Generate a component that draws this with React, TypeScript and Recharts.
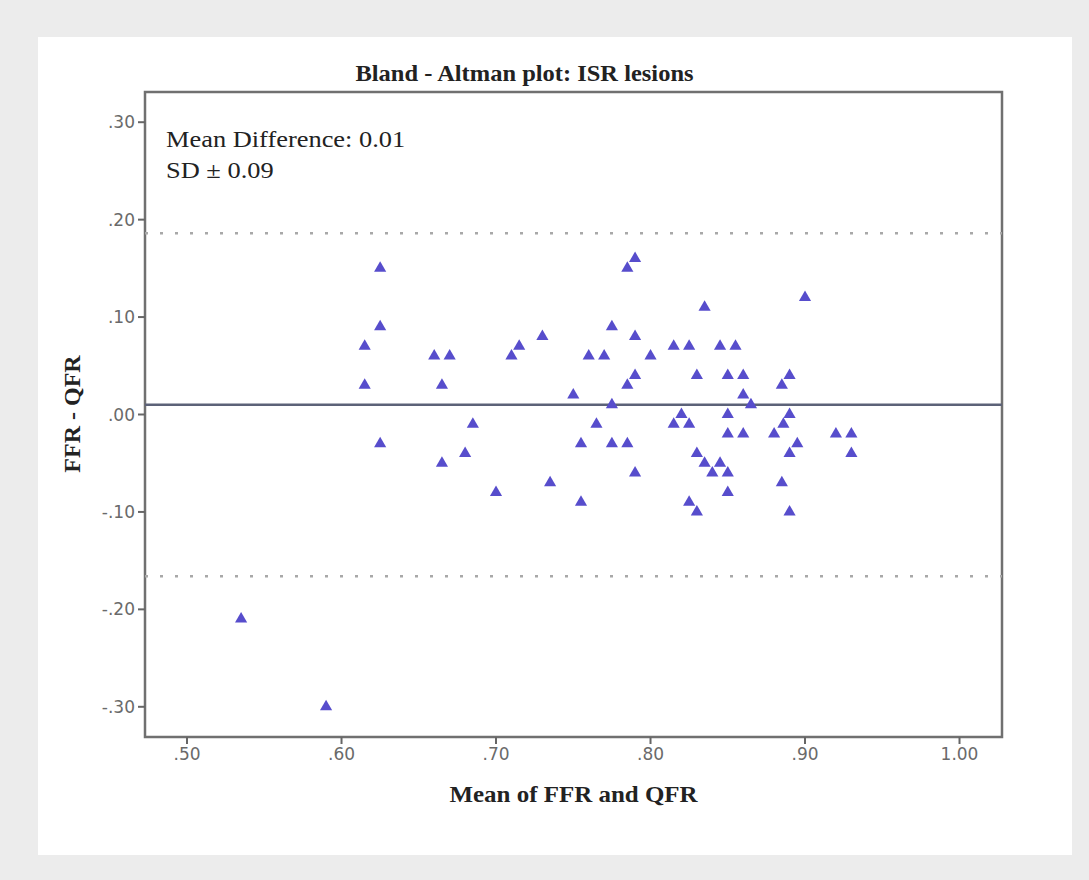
import React from "react";
import { ReferenceArea, ReferenceLine, Scatter, ScatterChart, XAxis, YAxis, ZAxis } from "recharts";

// mean of FFR and QFR (x) and FFR - QFR (y)
const meanOfFfrQfr = [
  0.535, 0.59,
  0.615, 0.615, 0.625, 0.625, 0.625,
  0.66, 0.67, 0.665, 0.665, 0.68, 0.685, 0.7,
  0.71, 0.715, 0.73, 0.735, 0.75, 0.755, 0.755,
  0.76, 0.77, 0.765, 0.775, 0.775, 0.775,
  0.785, 0.785, 0.785, 0.79, 0.79, 0.79, 0.79, 0.8,
  0.815, 0.825, 0.835, 0.845, 0.855, 0.9,
  0.83, 0.85, 0.86, 0.89, 0.885, 0.86, 0.865,
  0.82, 0.815, 0.825, 0.85, 0.89, 0.886, 0.88, 0.85, 0.86,
  0.92, 0.93, 0.93, 0.895, 0.89,
  0.83, 0.835, 0.84, 0.845, 0.85, 0.885, 0.85, 0.825, 0.83, 0.89,
];
const ffrMinusQfr = [
  -0.21, -0.30,
  0.07, 0.03, 0.15, 0.09, -0.03,
  0.06, 0.06, 0.03, -0.05, -0.04, -0.01, -0.08,
  0.06, 0.07, 0.08, -0.07, 0.02, -0.03, -0.09,
  0.06, 0.06, -0.01, 0.09, 0.01, -0.03,
  -0.03, 0.15, 0.03, 0.16, 0.08, 0.04, -0.06, 0.06,
  0.07, 0.07, 0.11, 0.07, 0.07, 0.12,
  0.04, 0.04, 0.04, 0.04, 0.03, 0.02, 0.01,
  0.0, -0.01, -0.01, 0.0, 0.0, -0.01, -0.02, -0.02, -0.02,
  -0.02, -0.02, -0.04, -0.03, -0.04,
  -0.04, -0.05, -0.06, -0.05, -0.06, -0.07, -0.08, -0.09, -0.1, -0.1,
];

const xTicks = [0.5, 0.6, 0.7, 0.8, 0.9, 1.0];
const yTicks = [-0.3, -0.2, -0.1, 0.0, 0.1, 0.2, 0.3];
const meanDifference = 0.01;
const limitsOfAgreement = [0.186, -0.166];
const xDomain = [0.4728, 1.0275];
const yDomain = [-0.331, 0.331];

const points = meanOfFfrQfr.map((m, i) => ({ mean: m, diff: ffrMinusQfr[i] }));

const fmt = (v: number) => {
  const s = Math.abs(v).toFixed(2);
  const t = s.startsWith("0") ? s.slice(1) : s;
  return (v < -1e-9 ? "-" : "") + t;
};

const serif = "'Liberation Serif', 'Times New Roman', serif";
const tickStyle = { fontSize: 17, fill: "#6a6a6a", fontFamily: "'DejaVu Sans', sans-serif" };

export default function App() {
  return (
    <div style={{ position: "absolute", left: 0, top: 0, width: 1089, height: 880, background: "#ececec" }}>
      <div style={{ position: "absolute", left: 38, top: 37, width: 1034, height: 818, background: "#fff" }} />
      <div style={{ position: "absolute", left: 0, top: 0 }}>
        <ScatterChart width={1089} height={880} margin={{ top: 92, right: 87, bottom: 103, left: 85 }}>
          <XAxis
            type="number"
            dataKey="mean"
            domain={xDomain}
            allowDataOverflow
            ticks={xTicks}
            tickFormatter={fmt}
            height={40}
            axisLine={false}
            tickSize={7}
            tickMargin={4}
            tickLine={{ stroke: "#666", strokeWidth: 2 }}
            tick={tickStyle}
          />
          <YAxis
            type="number"
            dataKey="diff"
            domain={yDomain}
            allowDataOverflow
            ticks={yTicks}
            tickFormatter={fmt}
            width={60}
            axisLine={false}
            tickSize={7}
            tickMargin={3}
            tickLine={{ stroke: "#666", strokeWidth: 2 }}
            tick={tickStyle}
          />
          <ZAxis type="number" range={[100, 100]} />
          <ReferenceArea x1={xDomain[0]} x2={xDomain[1]} y1={yDomain[0]} y2={yDomain[1]} fill="none" stroke="#707070" strokeWidth={2.5} />
          {limitsOfAgreement.map((v) => (
            <ReferenceLine key={v} y={v} stroke="#a8a8a8" strokeWidth={2.5} strokeDasharray="3 12" />
          ))}
          <ReferenceLine y={meanDifference} stroke="#5c6278" strokeWidth={2.5} />
          <Scatter data={points} shape="triangle" fill="#574dcc" isAnimationActive={false} />
        </ScatterChart>
      </div>
      <div style={{ position: "absolute", left: 0, width: 1049, top: 60, textAlign: "center", fontFamily: serif, fontWeight: "bold", fontSize: 24, color: "#222", transform: "scaleX(1.02)", transformOrigin: "524px 0" }}>
        Bland - Altman plot: ISR lesions
      </div>
      <div style={{ position: "absolute", left: 166, top: 124, fontFamily: serif, fontSize: 24, color: "#222", lineHeight: "31px", transform: "scaleX(1.1)", transformOrigin: "0 0" }}>
        <div>Mean Difference: {meanDifference.toFixed(2)}</div>
        <div>SD ± 0.09</div>
      </div>
      <div style={{ position: "absolute", left: 0, width: 1147, top: 781, textAlign: "center", fontFamily: serif, fontWeight: "bold", fontSize: 24, color: "#222", transform: "scaleX(1.04)", transformOrigin: "573px 0" }}>
        Mean of FFR and QFR
      </div>
      <div style={{ position: "absolute", left: 72, top: 414, transform: "translate(-50%, -50%) rotate(-90deg)", whiteSpace: "nowrap", fontFamily: serif, fontWeight: "bold", fontSize: 24, color: "#222" }}>
        FFR - QFR
      </div>
    </div>
  );
}
